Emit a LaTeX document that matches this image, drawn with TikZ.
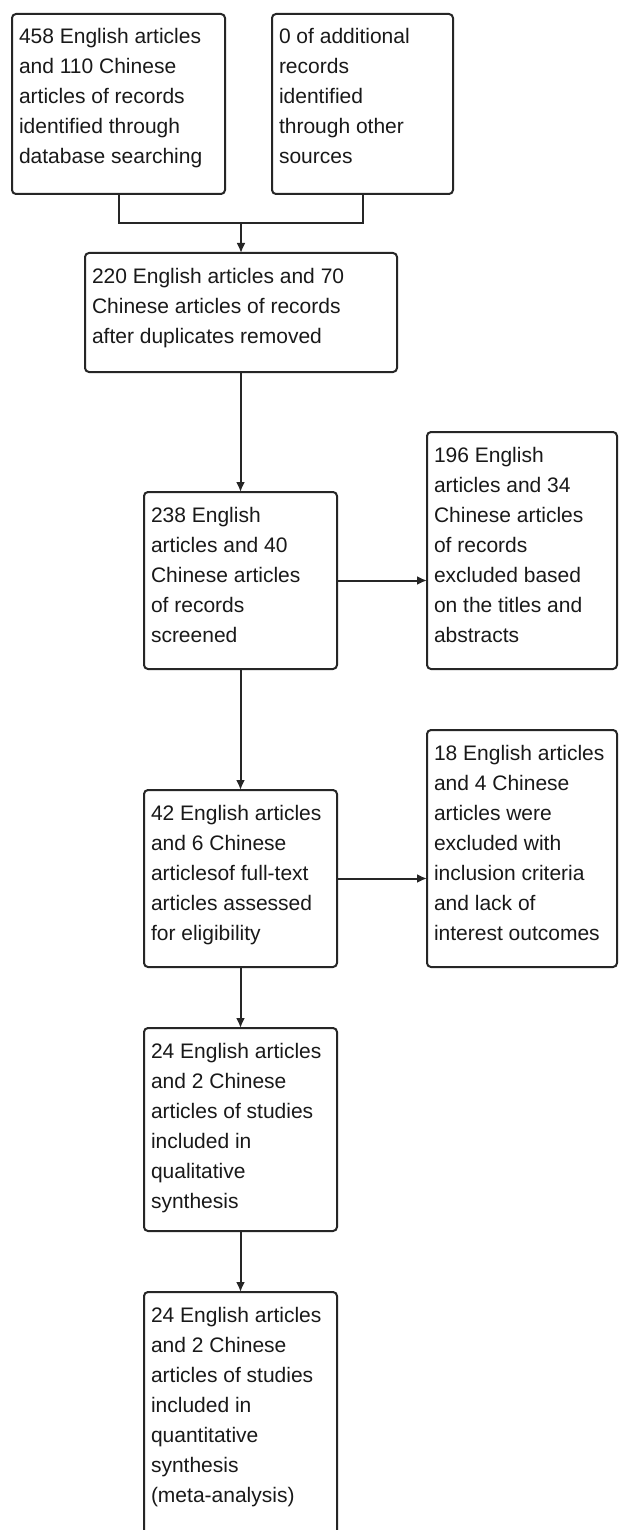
\documentclass[tikz,border=0pt]{standalone}
\usepackage{fontspec}
\setmainfont{Liberation Sans}
\usetikzlibrary{arrows.meta}
\newcommand{\boxtext}[3]{\parbox[c][#2][t]{#1}{\raggedright\leftskip=7pt\vspace*{9pt}\strut #3}}
\tikzset{
  fbox/.style={draw=black!85, line width=2pt, rounded corners=4pt, inner sep=0pt, outer sep=0pt, anchor=north west, font=\fontsize{21}{30}\selectfont, text=black!90},
  conn/.style={draw=black!85, line width=2pt},
  arr/.style={conn, -{Latex[length=10pt,width=9pt]}}
}
\begin{document}
\begin{tikzpicture}[x=1pt,y=-1pt]
\useasboundingbox (0,0) rectangle (618,1530);
\fill[white] (0,0) rectangle (618,1530);
\clip (0,0) rectangle (618,1530);
\node[fbox] (b1) at (12,14) {\boxtext{213pt}{180pt}{458 English articles\\and 110 Chinese\\articles of records\\identified through\\database searching}};
\node[fbox] (b2) at (272,14) {\boxtext{181pt}{180pt}{0 of additional\\records\\identified\\through other\\sources}};
\node[fbox] (b3) at (85,253) {\boxtext{312pt}{119pt}{220 English articles and 70\\Chinese articles of records\\after duplicates removed}};
\node[fbox] (b4) at (144,492) {\boxtext{193pt}{177pt}{238 English\\articles and 40\\Chinese articles\\of records\\screened}};
\node[fbox] (b5) at (427,432) {\boxtext{190pt}{237pt}{196 English\\articles and 34\\Chinese articles\\of records\\excluded based\\on the titles and\\abstracts}};
\node[fbox] (b6) at (427,730) {\boxtext{190pt}{237pt}{18 English articles\\and 4 Chinese\\articles were\\excluded with\\inclusion criteria\\and lack of\\interest outcomes}};
\node[fbox] (b7) at (144,790) {\boxtext{193pt}{177pt}{42 English articles\\and 6 Chinese\\articlesof full-text\\articles assessed\\for eligibility}};
\node[fbox] (b8) at (144,1028) {\boxtext{193pt}{203pt}{24 English articles\\and 2 Chinese\\articles of studies\\included in\\qualitative\\synthesis}};
\node[fbox] (b9) at (144,1292) {\boxtext{193pt}{270pt}{24 English articles\\and 2 Chinese\\articles of studies\\included in\\quantitative\\synthesis\\(meta-analysis)}};
\coordinate (j) at (241,223);
\draw[conn] (b1.south) |- (j);
\draw[conn] (b2.south) |- (j);
\draw[arr] (j) -- (b3.north);
\draw[arr] (b3.south -| b4.north) -- (b4.north);
\draw[arr] (b4.east) -- (b4.east -| b5.west);
\draw[arr] (b4.south) -- (b7.north);
\draw[arr] (b7.east) -- (b7.east -| b6.west);
\draw[arr] (b7.south) -- (b8.north);
\draw[arr] (b8.south) -- (b9.north);
\end{tikzpicture}
\end{document}
